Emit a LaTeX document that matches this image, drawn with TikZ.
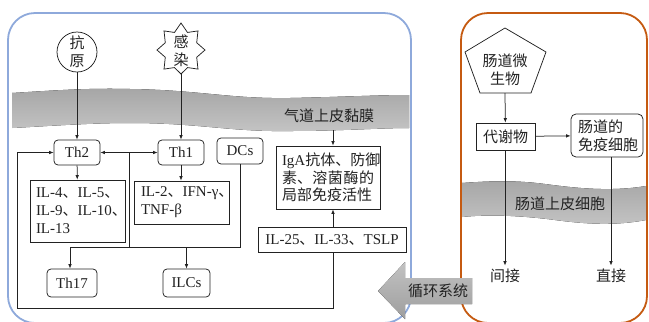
\documentclass[tikz,border=0pt]{standalone}
\usepackage{fontspec}
\setmainfont{Liberation Serif}
\newfontfamily\cjk{Noto Sans CJK SC}
\usetikzlibrary{arrows.meta,shapes.geometric,calc}
\definecolor{bluebox}{HTML}{8EA9DB}
\definecolor{orangebox}{HTML}{C55A11}
\definecolor{bandtop}{HTML}{A6A6A6}
\definecolor{bandbot}{HTML}{C4C4C4}
\definecolor{circtop}{HTML}{C2C2C2}
\definecolor{circbot}{HTML}{9E9E9E}
\definecolor{ink}{HTML}{222222}
\newcommand\zh[1]{{\cjk #1}}
\begin{document}
\begin{tikzpicture}[x=1bp,y=-1bp,
  every node/.style={font=\fontsize{15bp}{18bp}\selectfont, text=ink},
  ln/.style={draw=ink, line width=0.75bp},
  arr/.style={ln, -{Latex[length=4.5bp,width=3.6bp]}},
  darr/.style={ln, {Latex[length=4.5bp,width=3.6bp]}-{Latex[length=4.5bp,width=3.6bp]}},
  sbox/.style={ln, fill=white, inner sep=0pt, align=center},
  rbox/.style={sbox, rounded corners=4bp},
  lbox/.style={ln, fill=white, inner ysep=0pt, inner xsep=6bp, align=left},
  band/.style={top color=bandtop, bottom color=bandbot, draw=none}]
\useasboundingbox (0,0) rectangle (649,321);
% frames
\draw[bluebox, line width=1.8bp, rounded corners=27bp] (8,13) rectangle (411,323);
\draw[orangebox, line width=1.8bp, rounded corners=27bp] (461,13) rectangle (647,323);
% airway band
\fill[band] (12,93) .. controls (60,90) and (90,88) .. (130,89)
  .. controls (200,90) and (230,99) .. (290,98)
  .. controls (340,97) and (380,95) .. (409,95) -- (409,128)
  .. controls (380,128) and (340,131) .. (290,131)
  .. controls (230,132) and (200,123) .. (130,123)
  .. controls (90,123) and (50,126) .. (12,128) -- cycle;
\node (airway) at (329,116) {\zh{气道上皮黏膜}};
% gut band
\fill[band] (462,183) .. controls (490,181) and (515,180) .. (545,184)
  .. controls (575,188) and (610,192) .. (646,186) -- (646,220)
  .. controls (615,226) and (585,224) .. (555,220)
  .. controls (525,216) and (490,214) .. (462,217) -- cycle;
\node (gut) at (560,204) {\zh{肠道上皮细胞}};
% left panel nodes
\node[ln, circle, minimum size=40bp, inner sep=0pt] (ag) at (77,52) {};
\node[align=center] at (ag) {\zh{抗}\\\zh{原}};
\draw[ln, line join=miter, shift={(181,50)}]
  (90:24) \foreach \k in {1,...,15} {
    -- ({90+22.5*\k}:{ifthenelse(isodd(\k),17,24)} and {ifthenelse(isodd(\k),19,27)})
  } -- cycle;
\coordinate (inf) at (181,73.5);
\node[align=center] at (181,50.5) {\zh{感}\\\zh{染}};
\node[rbox, minimum width=46bp, minimum height=25bp] (th2) at (77,152.5) {Th2};
\node[rbox, minimum width=46bp, minimum height=25bp] (th1) at (181,152.5) {Th1};
\node[rbox, minimum width=46bp, minimum height=26bp] (dcs) at (240,151) {DCs};
\node[lbox, text width=83bp, minimum height=62bp] (il4) at (77.5,211)
  {\mbox{IL-4\zh{、}IL-5\zh{、}}\\\mbox{IL-9\zh{、}IL-10\zh{、}}\\\mbox{IL-13}};
\node[lbox, inner xsep=7bp, text width=81bp, minimum height=43bp] (il2) at (181.5,202.5)
  {\mbox{IL-2\zh{、}IFN-γ\zh{、}}\\\mbox{TNF-β}};
\node[rbox, minimum width=50bp, minimum height=28bp] (th17) at (72,283) {Th17};
\node[rbox, minimum width=47bp, minimum height=28bp] (ilcs) at (186.5,283) {ILCs};
\node[lbox, text width=92bp, minimum height=63bp, font=\fontsize{15bp}{17.5bp}\selectfont] (iga) at (328,177.5)
  {\mbox{IgA\zh{抗体、防御}}\\\makebox[92bp][s]{\zh{素、}\hfil\zh{溶}\hfil\zh{菌}\hfil\zh{酶}\hfil\zh{的}}\\\mbox{\zh{局部免疫活性}}};
\node[sbox, minimum width=148bp, minimum height=25bp] (il25) at (332,239.5) {IL-25\zh{、}IL-33\zh{、}TSLP};
% left panel connectors
\coordinate (ax) at (333,0);
\coordinate (airb) at (333,130);
\coordinate (br) at (129,152.5);
\coordinate (hb) at (129,247);
\coordinate (hl) at (70,247);
\coordinate (hr) at (240,247);
\draw[arr] (ag) -- (th2);
\draw[arr] (inf) -- (th1);
\draw[darr] (th2) -- (th1);
\draw[ln] (br) -- (hb);
\draw[ln] (dcs.south) -- (hr) -- (hl);
\draw[arr] (hl) -- (th17.north -| hl);
\draw[arr] (ilcs.north |- hr) -- (ilcs.north);
\draw[arr] (th2) -- (il4);
\draw[arr] (th1) -- (il2.north -| th1);
\draw[arr] (airb) -- (iga.north -| ax);
\draw[arr] (il25.north -| ax) -- (iga.south -| ax);
\draw[arr] (il25.south -| ax) -- (333,308) -- (17,308) -- (17,152.5) -- (th2.west);
% right panel
\coordinate (p1) at (505,28);
\coordinate (p2) at (546,52);
\coordinate (p3) at (531,93);
\coordinate (p4) at (480,93);
\coordinate (p5) at (465,52);
\coordinate (micb) at (505,93);
\draw[ln, line join=miter] (p1) -- (p2) -- (p3) -- (p4) -- (p5) -- cycle;
\node[align=center] (mic) at (505,69.5) {\zh{肠道微}\\\zh{生物}};
\node[sbox, minimum width=59bp, minimum height=27bp] (met) at (505.5,136.5) {\zh{代谢物}};
\node[lbox, rounded corners=5bp, inner xsep=7bp, text width=58bp, minimum height=43bp] (imm) at (607,135.5) {\zh{肠道的}\\\zh{免疫细胞}};
\node (ind) at (505,276) {\zh{间接}};
\node (dir) at (611,276) {\zh{直接}};
\draw[arr] (micb) -- (met);
\draw[arr] (met) -- (imm);
\draw[arr] (met.south -| micb) -- (ind.north -| micb);
\draw[arr] (imm.south -| dir) -- (dir.north);
% circulation arrow
\fill[top color=circtop, bottom color=circbot] (378,291) -- (405,262) -- (405,278) -- (472,278) -- (472,304) -- (405,304) -- (405,319) -- cycle;
\node (circ) at (438,291) {\zh{循环系统}};
\end{tikzpicture}
\end{document}
